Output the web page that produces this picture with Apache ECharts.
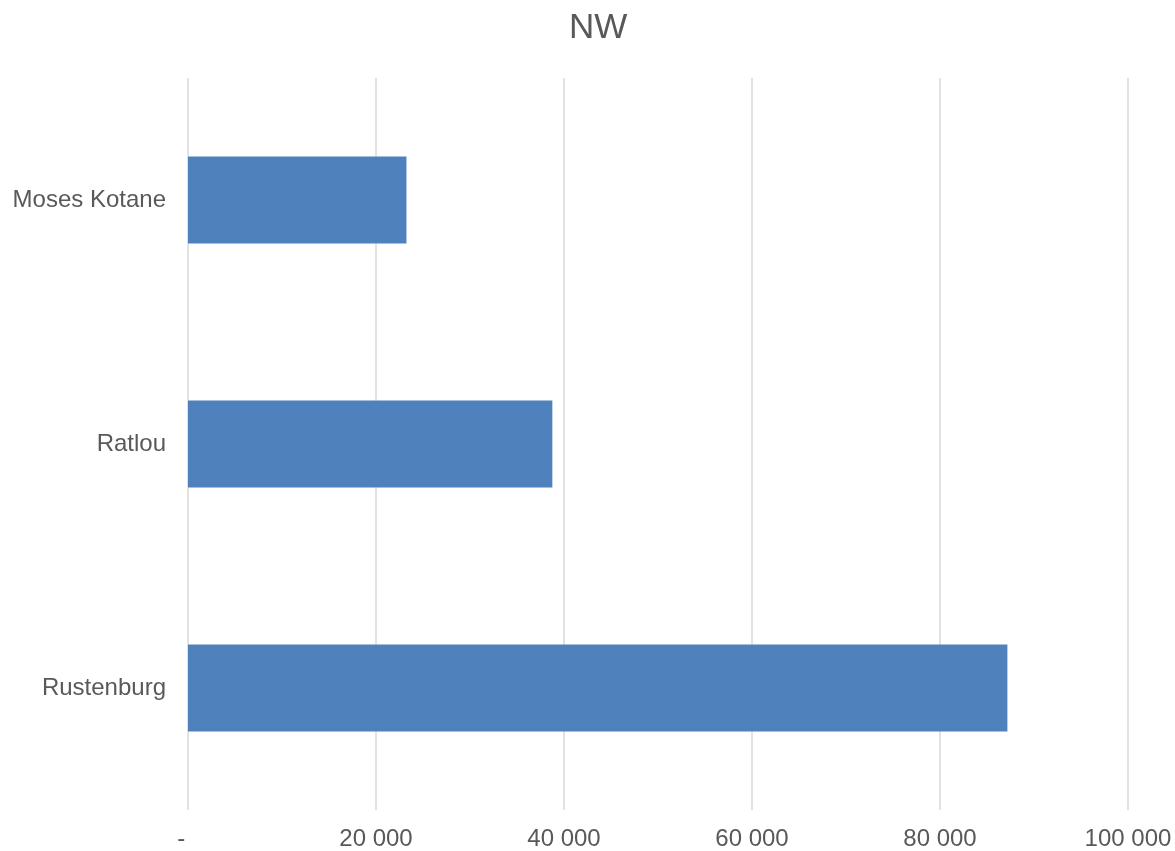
<!DOCTYPE html>
<html>
<head>
<meta charset="utf-8">
<title>NW</title>
<script src="https://cdn.jsdelivr.net/npm/echarts@6/dist/echarts.min.js"></script>
<style>
  html, body { margin: 0; padding: 0; background: #ffffff; }
  #chart { width: 1175px; height: 851px; }
</style>
</head>
<body>
<div id="chart"></div>
<script>
// Municipalities (top to bottom) and their values
const categories = ['Moses Kotane', 'Ratlou', 'Rustenburg'];
const values = [23240, 38760, 87170];

// Value axis range and tick step
const axisMin = 0;
const axisMax = 100000;
const axisStep = 20000;

const textColor = '#595959';
const fontFamily = "'Liberation Sans', Arial, sans-serif";

function formatTick(v) {
  if (v === 0) return '-  ';
  return String(v).replace(/\B(?=(\d{3})+(?!\d))/g, ' ');
}

const chart = echarts.init(document.getElementById('chart'), null, { renderer: 'canvas' });

chart.setOption({
  backgroundColor: '#ffffff',
  animation: false,
  title: {
    text: 'NW',
    left: 569,
    top: 11,
    padding: 0,
    textStyle: {
      color: textColor,
      fontFamily: fontFamily,
      fontSize: 35,
      fontWeight: 'normal'
    }
  },
  grid: {
    left: 188,
    right: 47,
    top: 78,
    bottom: 40,
    containLabel: false
  },
  xAxis: {
    type: 'value',
    min: axisMin,
    max: axisMax,
    interval: axisStep,
    axisLine: { show: false },
    axisTick: { show: false },
    splitLine: { show: true, lineStyle: { color: '#d9d9d9', width: 1.5 } },
    axisLabel: {
      color: textColor,
      fontFamily: fontFamily,
      fontSize: 24,
      margin: 17,
      formatter: formatTick
    }
  },
  yAxis: {
    type: 'category',
    data: categories,
    inverse: true,
    axisLine: { show: false },
    axisTick: { show: false },
    splitLine: { show: false },
    axisLabel: {
      color: textColor,
      fontFamily: fontFamily,
      fontSize: 24,
      margin: 22
    }
  },
  series: [{
    type: 'bar',
    data: values,
    barWidth: 87,
    itemStyle: { color: '#4f81bd' }
  }]
});
</script>
</body>
</html>
